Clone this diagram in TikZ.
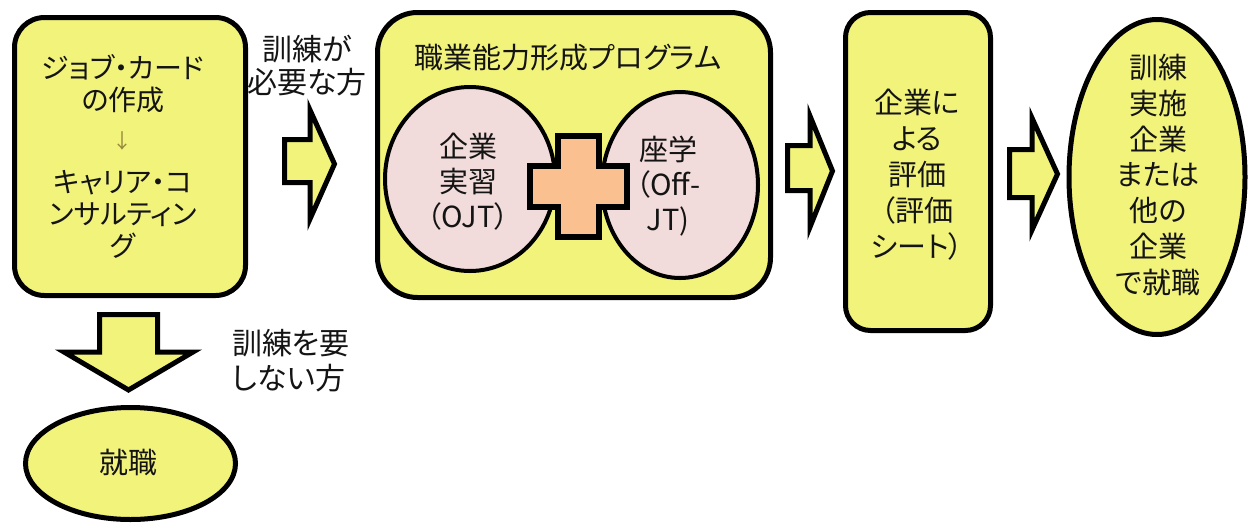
\documentclass[tikz,border=0pt]{standalone}
\usepackage{fontspec}
\setmainfont{Noto Sans CJK JP}[RawFeature=+palt]
\usetikzlibrary{shapes.geometric}
\definecolor{boxyellow}{RGB}{242,243,122}
\definecolor{circpink}{RGB}{242,220,219}
\definecolor{plusorange}{RGB}{250,192,144}
\definecolor{txt}{RGB}{20,20,20}
\definecolor{smallarrow}{RGB}{150,135,60}
\begin{document}
\begin{tikzpicture}[x=1pt,y=-1pt,
  ybox/.style={draw=black,line width=5pt,fill=boxyellow,inner sep=0pt},
  pcirc/.style={ellipse,draw=black,line width=4pt,fill=circpink,inner sep=0pt},
  yell/.style={ellipse,draw=black,line width=5pt,fill=boxyellow,inner sep=0pt},
  blockarrow/.style={draw=black,line width=5pt,fill=boxyellow,line join=miter},
  lbl/.style={text=txt,inner sep=0pt,align=center,font=\fontsize{29}{35}\selectfont}]
\useasboundingbox (0,0) rectangle (1248,523);

% boxes
\node[ybox,rounded corners=30pt,minimum width=231pt,minimum height=278pt] (box1) at (130,156.5) {};
\node[ybox,rounded corners=40pt,minimum width=393pt,minimum height=285pt] (box2) at (574,155) {};
\node[ybox,rounded corners=25pt,minimum width=145pt,minimum height=318pt] (box3) at (918,171.5) {};
\node[yell,minimum width=176pt,minimum height=315pt] (ell) at (1157,177) {};
\node[yell,minimum width=210pt,minimum height=112pt] (job) at (130.5,463.5) {};

% circles
\node[pcirc,minimum width=170pt,minimum height=184pt] (ojt) at (470,179) {};
\node[pcirc,minimum width=156pt,minimum height=186pt] (offjt) at (680,185) {};

% plus
\draw[draw=black,line width=6pt,fill=plusorange,line join=miter]
  (558,136) -- (599,136) -- (599,166) -- (627,166) -- (627,207) -- (599,207)
  -- (599,237) -- (558,237) -- (558,207) -- (530,207) -- (530,166) -- (558,166) -- cycle;

% block arrows
\draw[blockarrow] (284.5,139.5) -- (310,139.5) -- (310,110) -- (334.5,164) -- (310,219) -- (310,182.5) -- (284.5,182.5) -- cycle;
\draw[blockarrow] (787.5,145.5) -- (810,145.5) -- (810,116) -- (832.5,171) -- (810,227) -- (810,190.5) -- (787.5,190.5) -- cycle;
\draw[blockarrow] (1009.5,149.5) -- (1032,149.5) -- (1032,118) -- (1057.5,174) -- (1032,230) -- (1032,197.5) -- (1009.5,197.5) -- cycle;
\draw[blockarrow] (99.5,314.5) -- (157.5,314.5) -- (157.5,352) -- (193,352) -- (128.5,390) -- (64,352) -- (99.5,352) -- cycle;

% texts
\node[lbl,font=\fontsize{28}{32}\selectfont] (t1) at (123,156) {ジョブ・カード\\の作成\\[6pt]{\color{smallarrow}\fontsize{20}{20}\selectfont ↓}\\[12pt]キャリア・コ\\ンサルティン\\グ};
\node[lbl,font=\fontsize{30}{33}\selectfont] (l1) at (307,66) {訓練が\\必要な方};
\node[lbl] (t2) at (568,58) {職業能力形成プログラム};
\node[lbl] (t3) at (468,182) {企業\\実習\\（OJT）};
\node[lbl] (t4) at (668,186) {座学\\（Off-\\JT)};
\node[lbl,font=\fontsize{29}{36}\selectfont] (t5) at (917,175) {企業に\\よる\\評価\\（評価\\シート）};
\node[lbl,font=\fontsize{29}{35.7}\selectfont] (t6) at (1158,175) {訓練\\実施\\企業\\または\\他の\\企業\\で就職};
\node[lbl,align=left,anchor=west,font=\fontsize{30}{35}\selectfont] (l2) at (232,360.5) {訓練を要\\しない方};
\node[lbl] (t7) at (128,462) {就職};
\end{tikzpicture}
\end{document}
